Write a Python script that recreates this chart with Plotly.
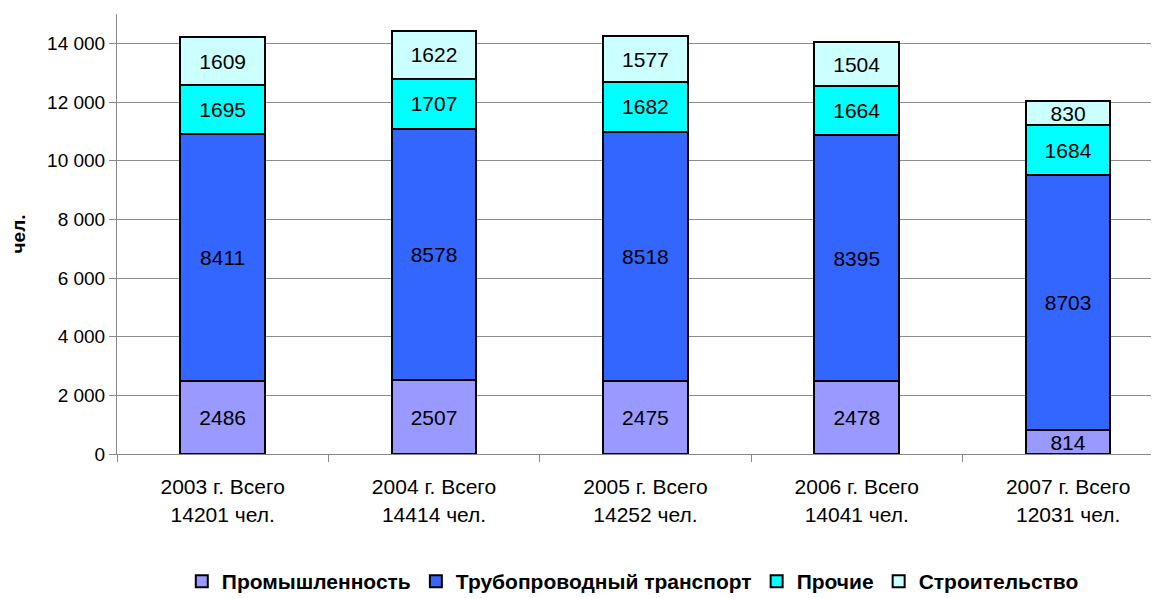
import plotly.graph_objects as go

# Data
categories = ["2003 г. Всего<br>14201 чел.", "2004 г. Всего<br>14414 чел.",
              "2005 г. Всего<br>14252 чел.", "2006 г. Всего<br>14041 чел.",
              "2007 г. Всего<br>12031 чел."]
industry = [2486, 2507, 2475, 2478, 814]
pipeline = [8411, 8578, 8518, 8395, 8703]
other = [1695, 1707, 1682, 1664, 1684]
construction = [1609, 1622, 1577, 1504, 830]

series = [
    ("Промышленность", industry, "#9999FF"),
    ("Трубопроводный транспорт", pipeline, "#3366FF"),
    ("Прочие", other, "#00FFFF"),
    ("Строительство", construction, "#CCFFFF"),
]

FONT = "Liberation Sans, Arial, sans-serif"

fig = go.Figure()
for name, vals, color in series:
    fig.add_trace(go.Bar(
        x=categories, y=vals, name=name,
        marker=dict(color=color, line=dict(color="black", width=2)),
        text=[str(v) for v in vals],
        textposition="inside", insidetextanchor="middle", textangle=0,
        constraintext="none",
        textfont=dict(family=FONT, size=21, color="black"),
        width=0.4,
    ))

# page body has an 8px margin, so the figure is shifted by 8px
fig.update_layout(
    barmode="stack",
    width=1151, height=598,
    margin=dict(t=6, b=152, l=109, r=0),
    plot_bgcolor="white", paper_bgcolor="white",
    separators=". ",
    font=dict(family=FONT, size=19, color="black"),
    uniformtext=dict(minsize=21, mode="show"),
    legend=dict(orientation="h", x=0.495, xanchor="center", y=-0.29, yanchor="middle",
                font=dict(size=21, family=FONT, weight="bold"), traceorder="normal",
                itemwidth=30),
    xaxis=dict(range=[-0.5, 4.43], tickson="boundaries", ticks="outside", ticklen=7,
               tickcolor="#888888", showline=True, linecolor="#888888",
               tickfont=dict(size=21), ticklabelstandoff=14),
    yaxis=dict(range=[0, 15000], dtick=2000, tickformat=",d", showgrid=True,
               gridcolor="#8C8C8C", gridwidth=1, showline=True, linecolor="#888888",
               ticks="outside", ticklen=7, tickcolor="#888888", zeroline=False,
               tickfont=dict(size=19),
               title=dict(text="<b>чел.</b>", font=dict(size=19), standoff=20)),
)

fig.write_html("out.html")
